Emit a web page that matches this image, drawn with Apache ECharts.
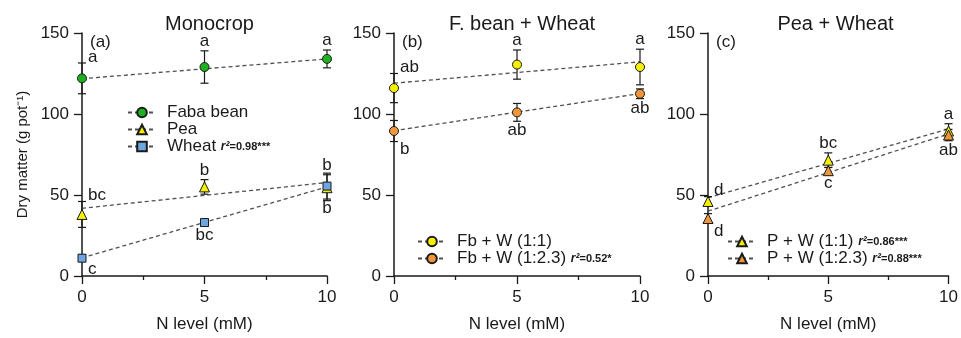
<!DOCTYPE html>
<html>
<head>
<meta charset="utf-8">
<script src="https://cdn.jsdelivr.net/npm/echarts@6/dist/echarts.min.js"></script>
<style>
  html, body { margin: 0; padding: 0; background: #ffffff; }
  #chart { width: 961px; height: 338px; }
</style>
</head>
<body>
<div id="chart"></div>
<script>
// N supply levels (mM) and axis ticks
const nLevels = [0, 5, 10];
const xTicks = [0, 5, 10];
const yTicks = [0, 50, 100, 150];
const panelTitles = ['Monocrop', 'F. bean + Wheat', 'Pea + Wheat'];
const panelTags = ['(a)', '(b)', '(c)'];

// (a) Monocrops: mean dry matter, error, letters, regression line ends (at 0 and 10 mM)
const fabaMean = [122, 129, 134];
const fabaErr = [9.5, 10, 5.5];
const fabaLetters = ['a', 'a', 'a'];
const fabaFit = [121.8, 134];

const peaMean = [38, 55, 54.5];
const peaErr = [8, 4.5, 8];
const peaLetters = ['bc', 'b', 'b'];
const peaFit = [41.8, 57.7];

const wheatMean = [11, 33, 55.5];
const wheatErr = [2, 2, 8];
const wheatLetters = ['c', 'bc', 'b'];
const wheatFit = [11.2, 55];
const wheatR2 = '0.98***';

// (b) Faba bean + wheat intercrops
const fbw11Mean = [116, 130.5, 129];
const fbw11Err = [9, 9, 11];
const fbw11Letters = ['ab', 'a', 'a'];
const fbw11Fit = [119, 132.2];

const fbw123Mean = [89.5, 101, 112.5];
const fbw123Err = [6.5, 5.5, 3];
const fbw123Letters = ['b', 'ab', 'ab'];
const fbw123Fit = [89.7, 112.6];
const fbw123R2 = '0.52*';

// (c) Pea + wheat intercrops
const pw11Mean = [46, 71.5, 89.5];
const pw11Err = [3, 4.5, 4.5];
const pw11Letters = ['d', 'bc', 'a'];
const pw11Fit = [48.3, 90.8];
const pw11R2 = '0.86***';

const pw123Mean = [35.5, 65, 87];
const pw123Err = [3, 2, 3.5];
const pw123Letters = ['d', 'c', 'ab'];
const pw123Fit = [40, 87.7];
const pw123R2 = '0.88***';

const FONT = '"Liberation Sans", Arial, Helvetica, sans-serif';
const INK = '#1a1a1a';

// Panel frames (pixels)
const grids = [
  { left: 82, top: 33, width: 245, height: 245 },
  { left: 394, top: 33, width: 246, height: 245 },
  { left: 708, top: 33, width: 245, height: 245 }
];

// Group definitions: data arrays + drawing style
const groups = [
  { panel: 0, name: 'Faba bean', mean: fabaMean, err: fabaErr, letters: fabaLetters, fit: fabaFit, r2: null,
    symbol: 'circle', size: 9, color: '#1fb01f', above: true },
  { panel: 0, name: 'Pea', mean: peaMean, err: peaErr, letters: peaLetters, fit: peaFit, r2: null,
    symbol: 'triangle', size: 10, color: '#f5f000', above: true },
  { panel: 0, name: 'Wheat', mean: wheatMean, err: wheatErr, letters: wheatLetters, fit: wheatFit, r2: wheatR2,
    symbol: 'rect', size: 8, color: '#6ea6e0', above: false },
  { panel: 1, name: 'Fb + W (1:1)', mean: fbw11Mean, err: fbw11Err, letters: fbw11Letters, fit: fbw11Fit, r2: null,
    symbol: 'circle', size: 9, color: '#f5f000', above: true },
  { panel: 1, name: 'Fb + W (1:2.3)', mean: fbw123Mean, err: fbw123Err, letters: fbw123Letters, fit: fbw123Fit, r2: fbw123R2,
    symbol: 'circle', size: 9, color: '#f0963a', above: false },
  { panel: 2, name: 'P + W (1:1)', mean: pw11Mean, err: pw11Err, letters: pw11Letters, fit: pw11Fit, r2: pw11R2,
    symbol: 'triangle', size: 10, color: '#f5f000', above: true },
  { panel: 2, name: 'P + W (1:2.3)', mean: pw123Mean, err: pw123Err, letters: pw123Letters, fit: pw123Fit, r2: pw123R2,
    symbol: 'triangle', size: 10, color: '#f0963a', above: false }
];

const r2ByName = {};
groups.forEach(g => { if (g.r2) r2ByName[g.name] = g.r2; });

// Error bars with caps and significance letters
function errorBarRenderer(g) {
  return function (params, api) {
    const x = api.value(0), m = api.value(1), e = api.value(2);
    const top = api.coord([x, m + e]);
    const bot = api.coord([x, m - e]);
    const cap = 4;
    const st = { stroke: INK, lineWidth: 1.2 };
    const children = [
      { type: 'line', shape: { x1: top[0], y1: top[1], x2: bot[0], y2: bot[1] }, style: st },
      { type: 'line', shape: { x1: top[0] - cap, y1: top[1], x2: top[0] + cap, y2: top[1] }, style: st },
      { type: 'line', shape: { x1: bot[0] - cap, y1: bot[1], x2: bot[0] + cap, y2: bot[1] }, style: st }
    ];
    const anchor = g.above ? top : bot;
    const atStart = params.dataIndex === 0;
    let tx, ty, align, vAlign;
    if (atStart) {
      tx = anchor[0] + 6; ty = anchor[1] + (g.above ? -6 : 8); align = 'left'; vAlign = 'middle';
    } else {
      tx = anchor[0]; ty = anchor[1] + (g.above ? -1 : 1); align = 'center'; vAlign = g.above ? 'bottom' : 'top';
    }
    children.push({
      type: 'text',
      style: { text: g.letters[params.dataIndex], x: tx, y: ty, align: align, verticalAlign: vAlign,
               font: '17px ' + FONT, fill: INK }
    });
    return { type: 'group', children: children };
  };
}

const series = [];
groups.forEach(g => {
  // regression line (first so the legend takes its line + symbol icon)
  series.push({
    type: 'line', name: g.name, xAxisIndex: g.panel, yAxisIndex: g.panel,
    data: [[nLevels[0], g.fit[0]], [nLevels[nLevels.length - 1], g.fit[1]]],
    symbol: g.symbol, symbolSize: g.size, showSymbol: false, silent: true,
    itemStyle: { color: g.color, borderColor: INK, borderWidth: 1 },
    lineStyle: { color: '#505050', width: 1.3, type: [4, 3] },
    z: 2
  });
  series.push({
    type: 'custom', xAxisIndex: g.panel, yAxisIndex: g.panel,
    data: nLevels.map((x, i) => [x, g.mean[i], g.err[i]]),
    renderItem: errorBarRenderer(g), clip: false, silent: true, z: 3
  });
  series.push({
    type: 'scatter', name: g.name, xAxisIndex: g.panel, yAxisIndex: g.panel,
    data: nLevels.map((x, i) => [x, g.mean[i]]),
    symbol: g.symbol, symbolSize: g.size, clip: false,
    itemStyle: { color: g.color, borderColor: INK, borderWidth: 1, opacity: 1 },
    z: 4
  });
});

const legendPos = [
  { left: 127, top: 104 },
  { left: 417, top: 233 },
  { left: 727, top: 233 }
];

const option = {
  animation: false,
  backgroundColor: '#ffffff',
  textStyle: { fontFamily: FONT, color: INK },
  title: [
    ...panelTitles.map((t, i) => ({
      text: t, left: grids[i].left + grids[i].width / 2, top: 9, textAlign: 'center',
      textStyle: { fontSize: 20, fontWeight: 'normal', color: INK, fontFamily: FONT }
    })),
    ...panelTags.map((t, i) => ({
      text: t, left: grids[i].left + 8, top: 34,
      textStyle: { fontSize: 17, fontWeight: 'normal', color: INK, fontFamily: FONT }, padding: 0
    }))
  ],
  legend: [0, 1, 2].map(p => ({
    orient: 'vertical',
    left: legendPos[p].left, top: legendPos[p].top,
    data: groups.filter(g => g.panel === p).map(g => g.name),
    itemWidth: 28, itemHeight: 12, itemGap: 0, padding: 0,
    selectedMode: false,
    formatter: name => r2ByName[name] ? name + ' {it|r²}{val|=' + r2ByName[name] + '}' : name,
    textStyle: {
      fontSize: 17, color: INK, fontFamily: FONT, padding: [0, 0, 0, 6],
      rich: {
        it: { fontSize: 12, fontStyle: 'italic', fontWeight: 'bold', color: INK, fontFamily: FONT },
        val: { fontSize: 11, fontWeight: 'bold', color: INK, fontFamily: FONT }
      }
    }
  })),
  grid: grids.map(g => Object.assign({ containLabel: false }, g)),
  xAxis: grids.map((g, i) => ({
    type: 'value', gridIndex: i,
    min: xTicks[0], max: xTicks[xTicks.length - 1], interval: xTicks[1] - xTicks[0],
    name: 'N level (mM)', nameLocation: 'middle', nameGap: 40,
    nameTextStyle: { fontSize: 17, color: INK, fontFamily: FONT },
    axisLine: { show: true, onZero: false, lineStyle: { color: INK, width: 1.5 } },
    axisTick: { show: true, length: 8, lineStyle: { color: INK, width: 1.3 } },
    minorTick: { show: true, splitNumber: 2, length: 4, lineStyle: { color: INK, width: 1.3 } },
    axisLabel: { fontSize: 17, color: INK, margin: 13, fontFamily: FONT },
    splitLine: { show: false }
  })),
  yAxis: grids.map((g, i) => ({
    type: 'value', gridIndex: i,
    min: yTicks[0], max: yTicks[yTicks.length - 1], interval: yTicks[1] - yTicks[0],
    name: i === 0 ? 'Dry matter (g pot⁻¹)' : '', nameLocation: 'middle', nameGap: 52,
    nameTextStyle: { fontSize: 15, color: INK, fontFamily: FONT },
    axisLine: { show: true, onZero: false, lineStyle: { color: INK, width: 1.5 } },
    axisTick: { show: true, length: 8, lineStyle: { color: INK, width: 1.3 } },
    axisLabel: { fontSize: 17, color: INK, margin: 13, fontFamily: FONT },
    splitLine: { show: false }
  })),
  series: series
};

const chart = echarts.init(document.getElementById('chart'), null, { renderer: 'canvas' });
chart.setOption(option);
</script>
</body>
</html>
